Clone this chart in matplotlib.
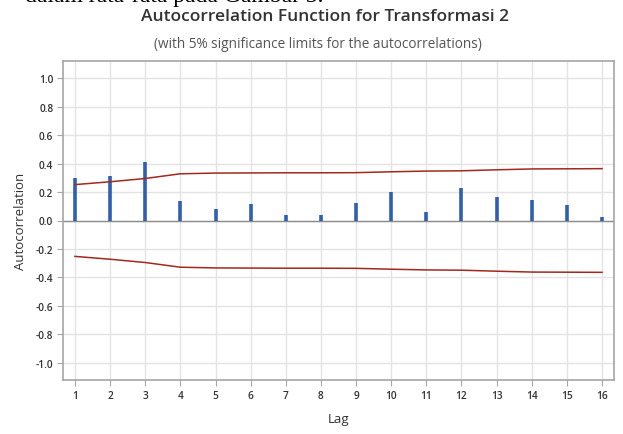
import numpy as np
import matplotlib.pyplot as plt

# ACF values
lags = list(range(1, 17))
acf = [0.30, 0.31, 0.41, 0.14, 0.08, 0.117, 0.038, 0.037,
       0.126, 0.20, 0.06, 0.23, 0.165, 0.144, 0.107, 0.028]
# 5% significance limits (upper), lower is the mirror
limit_up = [0.252, 0.272, 0.295, 0.328, 0.333, 0.334, 0.335, 0.335,
            0.336, 0.342, 0.347, 0.349, 0.356, 0.362, 0.363, 0.364]
limit_lo = [-v for v in limit_up]
yticks = [-1.0, -0.8, -0.6, -0.4, -0.2, 0.0, 0.2, 0.4, 0.6, 0.8, 1.0]

plt.rcParams['font.family'] = ['Open Sans', 'DejaVu Sans']

fig = plt.figure(figsize=(6.23, 4.35), dpi=100)
ax = fig.add_axes([63 / 623, 1 - 381 / 435, 551 / 623, 319 / 435])

ax.set_xlim(0.66, 16.34)
ax.set_ylim(-1.12, 1.12)
ax.set_xticks(lags)
ax.set_yticks(yticks)
ax.set_yticklabels([f"{v:.1f}" for v in yticks])
ax.grid(True, color='#e3e3e3', linewidth=1)
ax.set_axisbelow(True)

ax.axhline(0, color='#8c8c8c', linewidth=1, zorder=2)
ax.vlines(lags, 0, acf, color='#2f5fb3', linewidth=2.6, zorder=3)
ax.plot(lags, limit_up, color='#a3281e', linewidth=1.1, zorder=4)
ax.plot(lags, limit_lo, color='#a3281e', linewidth=1.1, zorder=4)

for s in ax.spines.values():
    s.set_color('#a6a6a6')
    s.set_linewidth(1.2)
ax.tick_params(axis='both', labelsize=7.3, colors='#333333', length=4,
               width=0.8, pad=3)
ax.tick_params(axis='both', color='#a6a6a6')
for lab in ax.get_xticklabels() + ax.get_yticklabels():
    lab.set_fontweight('semibold')

ax.set_ylabel('Autocorrelation', fontsize=9.5, color='#333333', labelpad=6)
ax.set_xlabel('Lag', fontsize=9.5, color='#333333', labelpad=8)

fig.text(0.522, 1 - 17 / 435, 'Autocorrelation Function for Transformasi 2',
         ha='center', va='center', fontsize=12.5, fontweight='semibold',
         color='#333333')
fig.text(0.511, 1 - 44 / 435, '(with 5% significance limits for the autocorrelations)',
         ha='center', va='center', fontsize=9.8, color='#555555')

# clipped line of document text at the very top
fig.text(0.04, 1 - 2 / 435, 'dalam rata-rata pada Gambar 3.', ha='left',
         va='baseline', fontsize=17, family='Liberation Serif', color='black')

fig.savefig('out.png', dpi=100)
